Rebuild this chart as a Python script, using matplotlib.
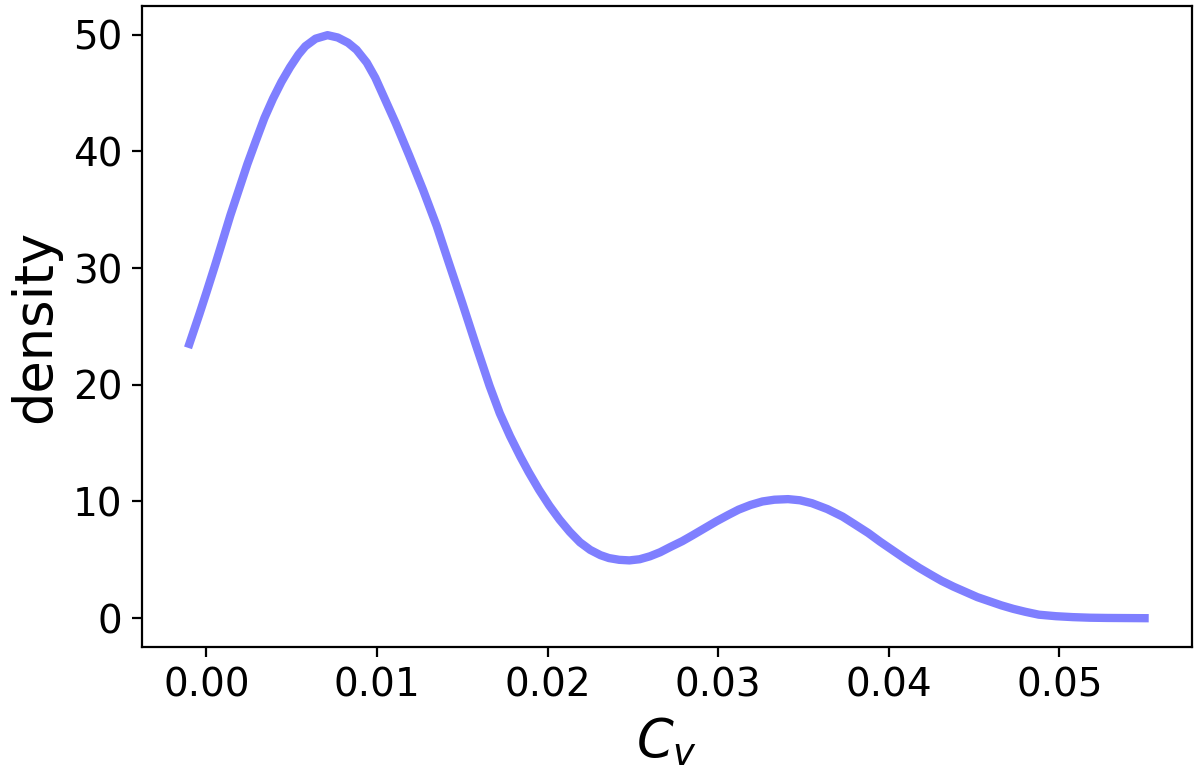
import matplotlib
matplotlib.use("Agg")
import matplotlib.pyplot as plt

cv = [-0.0010, -0.0004, 0.0000, 0.0005, 0.0009, 0.0014, 0.0019, 0.0024,
      0.0029, 0.0034, 0.0039, 0.0044, 0.0049, 0.0054, 0.0058, 0.0064,
      0.0071, 0.0077, 0.0083, 0.0088, 0.0094, 0.0099, 0.0103, 0.0111,
      0.0119, 0.0127, 0.0135, 0.0142, 0.0150, 0.0158, 0.0166, 0.0172,
      0.0178, 0.0184, 0.0189, 0.0195, 0.0201, 0.0207, 0.0213, 0.0219,
      0.0225, 0.0231, 0.0236, 0.0242, 0.0248, 0.0254, 0.0260, 0.0266,
      0.0272, 0.0279, 0.0285, 0.0292, 0.0299, 0.0306, 0.0312, 0.0319,
      0.0326, 0.0333, 0.0341, 0.0348, 0.0355, 0.0364, 0.0373, 0.0380,
      0.0388, 0.0395, 0.0402, 0.0410, 0.0418, 0.0425, 0.0431, 0.0438,
      0.0445, 0.0452, 0.0459, 0.0466, 0.0473, 0.0480, 0.0488, 0.0498,
      0.0508, 0.0518, 0.0528, 0.0539, 0.0550]
densite = [23.5, 26.1, 27.9, 30.2, 32.1, 34.5, 36.7, 38.9,
           40.9, 42.85, 44.5, 45.95, 47.2, 48.3, 49.0, 49.65,
           49.95, 49.75, 49.3, 48.7, 47.6, 46.3, 45.0, 42.4,
           39.6, 36.7, 33.6, 30.5, 27.0, 23.4, 19.9, 17.55,
           15.6, 13.85, 12.5, 11.0, 9.65, 8.45, 7.4, 6.5,
           5.85, 5.4, 5.15, 5.0, 4.95, 5.05, 5.3, 5.65,
           6.1, 6.6, 7.1, 7.7, 8.3, 8.85, 9.3, 9.7,
           10.0, 10.15, 10.2, 10.1, 9.85, 9.35, 8.7, 8.05,
           7.3, 6.55, 5.85, 5.05, 4.3, 3.7, 3.2, 2.7,
           2.25, 1.8, 1.45, 1.1, 0.8, 0.55, 0.3, 0.17,
           0.09, 0.04, 0.02, 0.01, 0.0]

xticks = [0.00, 0.01, 0.02, 0.03, 0.04, 0.05]
yticks = [0, 10, 20, 30, 40, 50]

fig = plt.figure(figsize=(6, 3.855), dpi=200)
ax = fig.add_axes([0.118, 0.1604, 0.8756, 0.8318])
ax.plot(cv, densite, color='b', alpha=0.5, linewidth=3, solid_joinstyle='round')

ax.set_xticks(xticks)
ax.set_xticklabels(["%.2f" % t for t in xticks])
ax.set_yticks(yticks)
ax.tick_params(labelsize=14)
ax.set_xlabel(r"$C_v$", fontsize=19)
ax.set_ylabel("density", fontsize=19)

fig.savefig("out.png", dpi=200)
